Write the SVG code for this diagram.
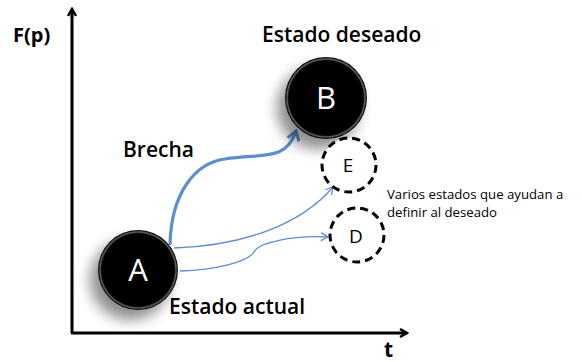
<svg xmlns="http://www.w3.org/2000/svg" width="582" height="362" viewBox="0 0 582 362">
<defs>
<style>
.t{font-family:"Open Sans","Noto Sans",sans-serif;fill:#000}
.big{font-size:21px;font-weight:600}
.small{font-size:13.2px}
.ax{stroke:#000;stroke-width:3;fill:none}
.thin{stroke:#5b8fcd;stroke-width:1.3;fill:none}
.thick{stroke:#5b8fcd;stroke-width:3.2;fill:none}
.dash{fill:#fff;stroke:#000;stroke-width:3;stroke-dasharray:8 5}
.wl{font-family:"Open Sans","Noto Sans",sans-serif;fill:#fff;font-size:31px;text-anchor:middle}
.bl{font-family:"Open Sans","Noto Sans",sans-serif;fill:#000;font-size:19px;text-anchor:middle}
</style>
<marker id="ah" markerWidth="10" markerHeight="10" refX="8" refY="5" orient="auto" markerUnits="userSpaceOnUse">
<path d="M1,1 L8,5 L1,9" fill="none" stroke="#000" stroke-width="2.5"/>
</marker>
<marker id="bh" markerWidth="14" markerHeight="14" refX="11" refY="7" orient="auto" markerUnits="userSpaceOnUse">
<path d="M2,1 L11,7 L2,13" fill="none" stroke="#5b8fcd" stroke-width="3"/>
</marker>
<marker id="sh" markerWidth="10" markerHeight="10" refX="8" refY="5" orient="auto" markerUnits="userSpaceOnUse">
<path d="M1,1 L8,5 L1,9" fill="none" stroke="#5b8fcd" stroke-width="1.3"/>
</marker>
<filter id="shadow" x="-60%" y="-60%" width="220%" height="220%">
<feGaussianBlur in="SourceAlpha" stdDeviation="7"/>
<feOffset dx="-8" dy="10" result="b"/>
<feComponentTransfer><feFuncA type="linear" slope="0.45"/></feComponentTransfer>
<feMerge><feMergeNode/><feMergeNode in="SourceGraphic"/></feMerge>
</filter>
<radialGradient id="gloss" cx="50%" cy="50%" r="50%">
<stop offset="0.91" stop-color="#000"/>
<stop offset="0.95" stop-color="#666"/>
<stop offset="0.98" stop-color="#111"/>
<stop offset="1" stop-color="#000"/>
</radialGradient>
</defs>
<rect width="582" height="362" fill="#fff"/>
<g id="axes">
<path class="ax" d="M72,333 L72,9" marker-end="url(#ah)"/>
<path class="ax" d="M71,333 L407,333" marker-end="url(#ah)"/>
<text class="t" x="13" y="42" font-weight="bold" font-size="20">F(p)</text>
<text class="t" x="384" y="357" font-weight="bold" font-size="21">t</text>
</g>
<g id="connectors">
<path class="thick" d="M170,245 C171,193 195,163 225,159 C262,153 286,162 296,131" marker-end="url(#bh)"/>
<path class="thin" d="M174,248 C240,246 300,226 333,187" marker-end="url(#sh)"/>
<path class="thin" d="M180,271 C215,270 248,262 254,252 C258,243 292,235 328,237" marker-end="url(#sh)"/>
</g>
<g id="node-A">
<circle cx="138" cy="270" r="40" fill="url(#gloss)" filter="url(#shadow)"/>
<text class="wl" x="138" y="281">A</text>
</g>
<g id="node-B">
<circle cx="326" cy="98" r="41" fill="url(#gloss)" filter="url(#shadow)"/>
<text class="wl" x="326" y="109">B</text>
</g>
<g id="node-E">
<circle class="dash" cx="349" cy="165" r="27"/>
<text class="bl" x="348" y="172">E</text>
</g>
<g id="node-D">
<circle class="dash" cx="357" cy="235" r="27"/>
<text class="bl" x="356" y="243">D</text>
</g>
<g id="labels">
<text class="t big" x="262" y="42">Estado deseado</text>
<text class="t big" x="123" y="157">Brecha</text>
<text class="t big" x="169" y="314">Estado actual</text>
<text class="t small" x="387" y="199">Varios estados que ayudan a</text>
<text class="t small" x="387" y="217">definir al deseado</text>
</g>
</svg>
